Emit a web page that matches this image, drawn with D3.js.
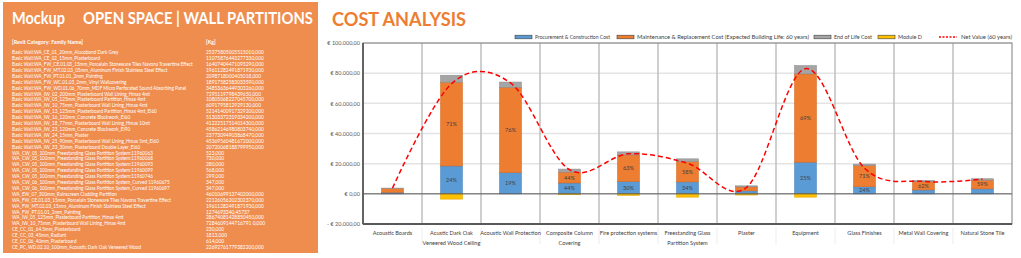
<!DOCTYPE html>
<html>
<head>
<meta charset="utf-8">
<script src="https://cdn.jsdelivr.net/npm/d3@7"></script>
<style>
  body { margin: 0; background: #fff; }
  svg { display: block; font-family: Lato, "Open Sans", sans-serif; }
</style>
</head>
<body>
<div id="chart"></div>
<script>
// left panel data
const familyNames = [
  "Basic Wall:WA_CE_01_20mm_Alucobond Dark Grey",
  "Basic Wall:WA_CE_02_15mm_Plasterboard",
  "Basic Wall:WA_FW_CE.01.03_15mm_Porcelain Stoneware Tiles Navona Travertine Effect",
  "Basic Wall:WA_FW_MT.02.03_05mm_Aluminum Finish Stainless Steel Effect",
  "Basic Wall:WA_FW_PT.01.01_2mm_Painting",
  "Basic Wall:WA_FW_WC.01.03_2mm_Vinyl Wallcovering",
  "Basic Wall:WA_FW_WD.01.06_70mm_MDF Micro Perforated Sound Absorbing Panel",
  "Basic Wall:WA_IW_02_200mm_Plasterboard Wall Lining_Hmax 4mt",
  "Basic Wall:WA_IW_05_125mm_Plasterboard Partition_Hmax 4mt",
  "Basic Wall:WA_IW_10_75mm_Plasterboard Wall Lining_Hmax 4mt",
  "Basic Wall:WA_IW_13_125mm_Plasterboard Partition_Hmax 4mt_EI60",
  "Basic Wall:WA_IW_16_120mm_Concrete Blockwork_EI60",
  "Basic Wall:WA_IW_18_77mm_Plasterboard Wall Lining_Hmax 10mt",
  "Basic Wall:WA_IW_23_120mm_Concrete Blockwork_EI90",
  "Basic Wall:WA_IW_24_15mm_Plaster",
  "Basic Wall:WA_IW_25_90mm_Plasterboard Wall Lining_Hmax 5mt_EI60",
  "Basic Wall:WA_IW_33_30mm_Plasterboard Double Layer_EI60",
  "WA_CW_05_100mm_Freestanding Glass Partition System:11960063",
  "WA_CW_05_100mm_Freestanding Glass Partition System:11960068",
  "WA_CW_05_100mm_Freestanding Glass Partition System:11960093",
  "WA_CW_05_100mm_Freestanding Glass Partition System:11960099",
  "WA_CW_05_100mm_Freestanding Glass Partition System:11960746",
  "WA_CW_06_100mm_Freestanding Glass Partition System_Curved 11960675",
  "WA_CW_06_100mm_Freestanding Glass Partition System_Curved 11960697",
  "WA_EW_07_300mm_Rainscreen Cladding Partition",
  "WA_FW_CE.01.03_15mm_Porcelain Stoneware Tiles Navona Travertine Effect",
  "WA_FW_MT.02.03_15mm_Aluminum Finish Stainless Steel Effect",
  "WA_FW_PT.01.01_2mm_Painting",
  "WA_IW_05_125mm_Plasterboard Partition_Hmax 4mt",
  "WA_IW_10_75mm_Plasterboard Wall Lining_Hmax 4mt",
  "CE_CC_01_64.5mm_Plasterboard",
  "CE_CC_03_45mm_Radiant",
  "CE_CC_06_40mm_Plasterboard",
  "CE_PC_WD.02.10_100mm_Acoustic Dark Oak Veneered Wood"
];
const familyKg = [
  "25375805005515010,000", "11075876443277330,000", "16407404471093290,000",
  "19611282491871930,000", "2098718000405018,000", "18917582583033590,000",
  "34853636449303260,000", "7295119798439650,000", "10805068227045700,000",
  "6091795812929130,000", "52141400917329200,000", "51303372319334200,000",
  "41222517514014300,000", "45862146980803740,000", "23773094903868470,000",
  "45369560481672000,000", "20720068188799950,000", "523,000", "730,000",
  "280,000", "568,000", "299,000", "347,000", "347,000",
  "46010699137402000,000", "22126056202302370,000", "19611282491871930,000",
  "1274693340,45737", "28674081428850450,000", "7284609144716791 0,000",
  "230,000", "1813,000", "614,000", "22692761779382200,000"
];

// chart data (EUR)
const categories = [
  "Acoustic Boards", "Acustic Dark Oak Veneered Wood Ceiling", "Acoustic Wall Protection",
  "Composite Column Covering", "Fire protection systems", "Freestanding Glass Partition System",
  "Plaster", "Equipment", "Glass Finishes", "Metal Wall Covering", "Natural Stone Tile"
];
const categoryLines = [
  ["Acoustic Boards"], ["Acustic Dark Oak", "Veneered Wood Ceiling"], ["Acoustic Wall Protection"],
  ["Composite Column", "Covering"], ["Fire protection systems"], ["Freestanding Glass", "Partition System"],
  ["Plaster"], ["Equipment"], ["Glass Finishes"], ["Metal Wall Covering"], ["Natural Stone Tile"]
];
const procurement = [1000, 18500, 14100, 7200, 8200, 7900, 2000, 21000, 4700, 2600, 3300];
const maintenance = [2500, 55500, 56500, 7200, 17600, 13500, 2600, 58500, 14000, 5500, 5800];
const endOfLife   = [300, 4600, 3500, 2000, 2000, 1800, 700, 5500, 1000, 700, 900];
const moduleD     = [0, -3500, 0, -600, -1000, -2200, -800, -2200, 0, 0, 0];
const netValue    = [3800, 73000, 73500, 16000, 26500, 20300, 4200, 83000, 17000, 8200, 9700];
const procLabels  = [null, "24%", "19%", "44%", "30%", "34%", null, "25%", "24%", null, null];
const maintLabels = [null, "71%", "76%", "44%", "63%", "58%", null, "69%", "71%", "62%", "59%"];
const yTicks = [-20000, 0, 20000, 40000, 60000, 80000, 100000];

const seriesNames = [
  "Procurement & Construction Cost",
  "Maintenance & Replacement Cost (Expected Building Life: 60 years)",
  "End of Life Cost",
  "Module D",
  "Net Value (60 years)"
];
const colors = ["#5B9BD5", "#ED7D31", "#A5A5A5", "#FFC000", "#FF0000"];
const strokes = ["#4A86BE", "#D46A22", "#8F8F8F", "#E0A800"];

const W = 1021, H = 258;
const svg = d3.select("#chart").append("svg")
  .attr("width", W).attr("height", H);

// ---------- left panel ----------
svg.append("rect")
  .attr("x", 3).attr("y", 2).attr("width", 315).attr("height", 251)
  .attr("fill", "#EF8D4E");

svg.append("text").attr("x", 12).attr("y", 24)
  .attr("font-size", 17).attr("font-weight", 700).attr("fill", "#fff")
  .attr("textLength", 53).attr("lengthAdjust", "spacingAndGlyphs")
  .text("Mockup");
svg.append("text").attr("x", 83).attr("y", 24)
  .attr("font-size", 17).attr("font-weight", 700).attr("fill", "#fff")
  .attr("textLength", 230).attr("lengthAdjust", "spacingAndGlyphs")
  .text("OPEN SPACE | WALL PARTITIONS");

svg.append("text").attr("x", 12).attr("y", 43.5)
  .attr("font-size", 5.2).attr("font-weight", 700).attr("fill", "#fff")
  .attr("textLength", 71).attr("lengthAdjust", "spacingAndGlyphs")
  .text("[Revit Category: Family Name]");
svg.append("text").attr("x", 206).attr("y", 43.5)
  .attr("font-size", 5.2).attr("font-weight", 700).attr("fill", "#fff")
  .text("[Kg]");

const rowY = d3.scaleLinear().domain([0, familyNames.length - 1]).range([54.2, 249]);
const list = svg.append("g").attr("fill", "#fff");
list.selectAll("text.name").data(familyNames).join("text")
  .attr("class", "name").attr("x", 12).attr("y", (d, i) => rowY(i))
  .attr("font-size", 4.65).text(d => d);
list.selectAll("text.kg").data(familyKg).join("text")
  .attr("class", "kg").attr("x", 206).attr("y", (d, i) => rowY(i))
  .attr("font-size", 4.9).text(d => d);

// ---------- chart ----------
svg.append("text").attr("x", 332).attr("y", 25.5)
  .attr("font-size", 19).attr("font-weight", 700).attr("fill", "#ED7D31")
  .attr("textLength", 134).attr("lengthAdjust", "spacingAndGlyphs")
  .text("COST ANALYSIS");

const plot = { left: 363, right: 1012, top: 43, bottom: 224 };

const x = d3.scaleBand().domain(categories).range([plot.left, plot.right]).padding(0);
const y = d3.scaleLinear().domain([-20000, 100000]).range([plot.bottom, plot.top]);

// horizontal gridlines
svg.append("g").selectAll("line").data(yTicks).join("line")
  .attr("x1", plot.left).attr("x2", plot.right)
  .attr("y1", d => y(d)).attr("y2", d => y(d))
  .attr("stroke", "#E4E4E4").attr("stroke-width", 1.5);

// vertical category separators
svg.append("g").selectAll("line").data(categories.slice(1)).join("line")
  .attr("x1", d => x(d)).attr("x2", d => x(d))
  .attr("y1", plot.top).attr("y2", plot.bottom)
  .attr("stroke", "#BFBFBF").attr("stroke-width", 1.5);
svg.append("g").selectAll("line").data(categories.slice(1)).join("line")
  .attr("x1", d => x(d)).attr("x2", d => x(d))
  .attr("y1", plot.bottom + 4).attr("y2", plot.bottom + 20)
  .attr("stroke", "#EDEDED").attr("stroke-width", 1);

// stacked bars
const rows = categories.map((c, i) => ({
  cat: c, p: procurement[i], m: maintenance[i], e: endOfLife[i], d: moduleD[i]
}));
const keys = ["p", "m", "e", "d"];
const stacked = d3.stack().keys(keys).offset(d3.stackOffsetDiverging)(rows);
const barW = x.bandwidth() * 0.37;

const layers = svg.append("g").selectAll("g").data(stacked).join("g")
  .attr("fill", (d, i) => colors[i])
  .attr("stroke", (d, i) => strokes[i])
  .attr("stroke-width", 0.6);
layers.selectAll("rect").data(d => d).join("rect")
  .attr("x", d => x(d.data.cat) + (x.bandwidth() - barW) / 2)
  .attr("width", barW)
  .attr("y", d => y(Math.max(d[0], d[1])))
  .attr("height", d => Math.abs(y(d[0]) - y(d[1])));

// percentage labels
const lab = svg.append("g").attr("font-size", 5.5).attr("fill", "#404040").attr("text-anchor", "middle");
[[0, procLabels], [1, maintLabels]].forEach(([k, labels]) => {
  lab.selectAll(null).data(stacked[k].filter((d, i) => labels[i])).join("text")
    .attr("x", d => x(d.data.cat) + x.bandwidth() / 2)
    .attr("y", d => (y(d[0]) + y(d[1])) / 2 + 2)
    .text(d => labels[categories.indexOf(d.data.cat)]);
});

// axes frame
svg.append("line").attr("x1", plot.left).attr("x2", plot.right)
  .attr("y1", y(0)).attr("y2", y(0)).attr("stroke", "#595959").attr("stroke-width", 1);
svg.append("rect").attr("x", plot.left).attr("y", plot.top)
  .attr("width", plot.right - plot.left).attr("height", plot.bottom - plot.top)
  .attr("fill", "none").attr("stroke", "#7F7F7F").attr("stroke-width", 1);
svg.append("line").attr("x1", plot.left).attr("x2", plot.left)
  .attr("y1", plot.top).attr("y2", plot.bottom).attr("stroke", "#595959").attr("stroke-width", 1.8);
svg.append("line").attr("x1", plot.left).attr("x2", plot.right)
  .attr("y1", plot.bottom).attr("y2", plot.bottom).attr("stroke", "#595959").attr("stroke-width", 1.8);

// net value line
const line = d3.line()
  .x((d, i) => x(categories[i]) + x.bandwidth() / 2)
  .y(d => y(d))
  .curve(d3.curveCardinal.tension(0));
svg.append("path").datum(netValue)
  .attr("d", line)
  .attr("fill", "none").attr("stroke", colors[4])
  .attr("stroke-width", 1.5).attr("stroke-dasharray", "5,3");

// y axis labels
const eur = d3.formatLocale({ decimal: ",", thousands: ".", grouping: [3], currency: ["€ ", ""] })
  .format("$,.2f");
const yAxis = d3.axisLeft(y).tickValues(yTicks).tickSize(0).tickPadding(3)
  .tickFormat(v => v < 0 ? "- " + eur(-v) : eur(v));
svg.append("g").attr("transform", `translate(${plot.left},0)`).call(yAxis)
  .call(g => g.select(".domain").remove())
  .selectAll("text").attr("font-size", 5.5).attr("fill", "#595959")
  .attr("font-family", "Lato, sans-serif");

// category labels
const xl = svg.append("g").attr("font-size", 5.6).attr("fill", "#404040").attr("text-anchor", "middle");
xl.selectAll("text").data(categories).join("text")
  .attr("x", d => x(d) + x.bandwidth() / 2)
  .attr("y", plot.bottom + 11)
  .each(function (d, i) {
    d3.select(this).selectAll("tspan").data(categoryLines[i]).join("tspan")
      .attr("x", x(d) + x.bandwidth() / 2)
      .attr("dy", (t, j) => j ? 9.5 : 0)
      .text(t => t);
  });

// legend
const legendX = [515, 617, 814, 878, 939];
const legendTextW = [75, 172, 38, 24, 51];
const leg = svg.append("g").attr("font-size", 5.8).attr("fill", "#404040");
seriesNames.forEach((name, i) => {
  const g = leg.append("g").attr("transform", `translate(${legendX[i]},37)`);
  if (i < 4) {
    g.append("rect").attr("x", 0).attr("y", -1.8).attr("width", 17).attr("height", 3.6)
      .attr("fill", colors[i]).attr("stroke", "#404040").attr("stroke-width", 0.6);
  } else {
    g.append("line").attr("x1", 0).attr("x2", 18).attr("y1", 0).attr("y2", 0)
      .attr("stroke", colors[i]).attr("stroke-width", 1.5).attr("stroke-dasharray", "2,1.5");
  }
  g.append("text").attr("x", i < 4 ? 20 : 22).attr("y", 2)
    .attr("textLength", legendTextW[i]).attr("lengthAdjust", "spacingAndGlyphs")
    .text(name);
});
</script>
</body>
</html>
